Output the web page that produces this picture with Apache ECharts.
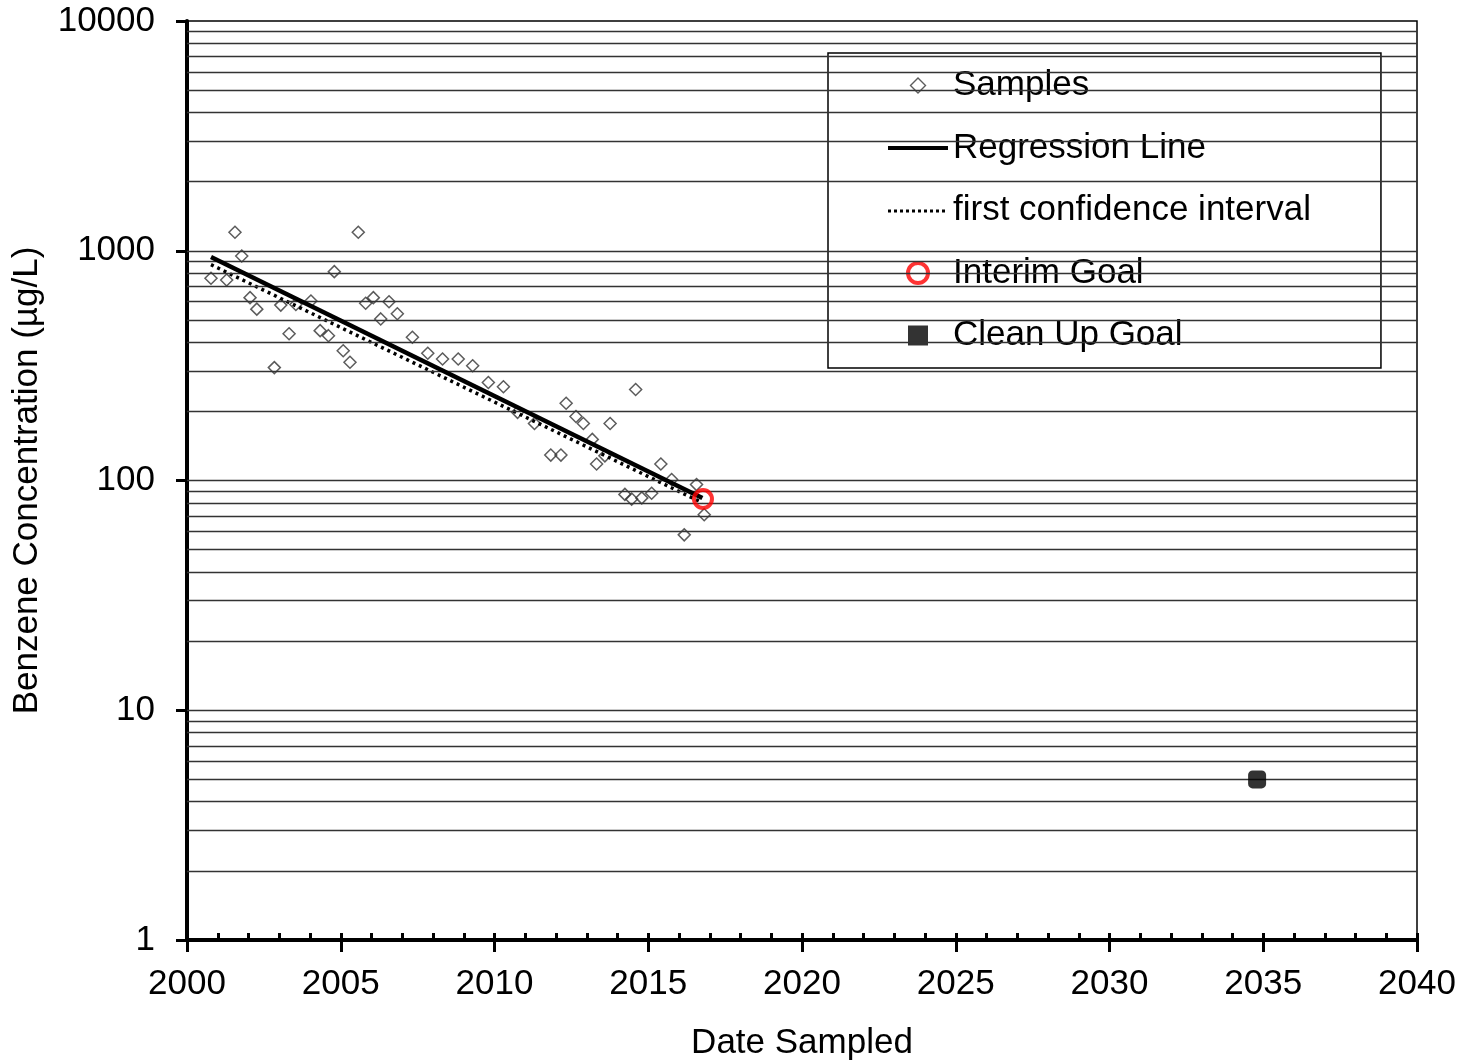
<!DOCTYPE html>
<html>
<head>
<meta charset="utf-8">
<script src="https://cdn.jsdelivr.net/npm/echarts@6/dist/echarts.min.js"></script>
<style>
  html, body { margin: 0; padding: 0; background: #fff; }
  #chart { width: 1465px; height: 1064px; }
</style>
</head>
<body>
<div id="chart"></div>
<script>
// sample dates (decimal year) and benzene concentrations (ug/L)
const sampleYears = [
    2000.78, 2001.29, 2001.56, 2001.78, 2002.05, 2002.27, 2002.84, 2003.05, 2003.32, 2003.54,
    2004.03, 2004.33, 2004.60, 2004.79, 2005.08, 2005.30, 2005.57, 2005.81, 2006.06, 2006.30,
    2006.57, 2006.84, 2007.33, 2007.83, 2008.31, 2008.82, 2009.29, 2009.80, 2010.29, 2010.75,
    2011.30, 2011.83, 2012.16, 2012.33, 2012.65, 2012.89, 2013.18, 2013.32, 2013.59, 2013.76,
    2014.24, 2014.46, 2014.59, 2014.79, 2015.11, 2015.41, 2015.76, 2016.17, 2016.57, 2016.82
];
const sampleValues = [
    759, 746, 1203, 949, 625, 557, 310, 580, 435, 584,
    604, 449, 427, 811, 367, 327, 1203, 591, 625, 505,
    600, 532, 420, 358, 338, 338, 316, 267, 256, 198,
    177, 129, 129, 217, 190, 177, 151, 118, 128, 177,
    87, 83, 249, 84, 88, 118, 101, 58, 96, 71
];

// regression line and first confidence interval (end points)
const regressionYears = [2000.78, 2016.76];
const regressionValues = [940, 84];
const confidenceYears = [2000.78, 2016.76];
const confidenceValues = [870, 80];

// goals
const interimGoal = [2016.78, 83];
const cleanUpGoal = [2034.8, 5];

const seriesNames = ['Samples', 'Regression Line', 'first confidence interval', 'Interim Goal', 'Clean Up Goal'];

const FONT = 'Liberation Sans, Arial, sans-serif';
const FS = 35;

// horizontal grid lines at 1..9 x each decade
const gridValues = [];
for (let d = 1; d <= 1000; d *= 10) {
    for (let m = 1; m <= 9; m++) {
        if (d * m > 1) gridValues.push(d * m);
    }
}

// dotted legend icon
let dotPath = 'path://M0 0M60 20';
for (let i = 0; i < 10; i++) {
    dotPath += 'M' + (i * 6) + ' 9h3v3h-3Z';
}

const chart = echarts.init(document.getElementById('chart'));

chart.setOption({
    backgroundColor: '#fff',
    animation: false,
    grid: {
        left: 187,
        right: 48,
        top: 21,
        bottom: 124,
        outerBoundsMode: 'none',
        containLabel: false,
        show: true,
        borderColor: '#000',
        borderWidth: 1.5,
        backgroundColor: 'transparent'
    },
    legend: {
        orient: 'vertical',
        left: 828,
        top: 53,
        padding: [15, 70, 15, 60],
        itemWidth: 60,
        itemHeight: 20,
        itemGap: 27.5,
        selectedMode: false,
        backgroundColor: '#fff',
        borderColor: '#000',
        borderWidth: 1.5,
        textStyle: { fontFamily: FONT, fontSize: FS, color: '#000', lineHeight: 35 },
        data: [
            {
                name: seriesNames[0],
                icon: 'path://M0 0M20 20M2.5 10L10 2.5L17.5 10L10 17.5Z',
                itemStyle: { color: 'transparent', borderColor: '#333', borderWidth: 1.4 }
            },
            {
                name: seriesNames[1],
                icon: 'path://M0 0M60 20M0 8L60 8L60 12L0 12Z',
                itemStyle: { color: '#000', borderWidth: 0 }
            },
            {
                name: seriesNames[2],
                icon: dotPath,
                itemStyle: { color: '#000', borderWidth: 0 }
            },
            {
                name: seriesNames[3],
                icon: 'path://M0 0M20 20M10 -0.5A10.5 10.5 0 1 1 9.99 -0.5Z',
                itemStyle: { color: 'transparent', borderColor: '#f00', borderWidth: 4 }
            },
            {
                name: seriesNames[4],
                icon: 'path://M0 0M20 20M0 0h20v20h-20Z',
                itemStyle: { color: '#000', borderWidth: 0 }
            }
        ]
    },
    xAxis: [{
        type: 'value',
        min: 2000,
        max: 2040,
        interval: 5,
        name: 'Date Sampled',
        nameLocation: 'middle',
        nameGap: 86,
        nameTextStyle: { fontFamily: FONT, fontSize: FS, color: '#000' },
        axisLine: { show: true, onZero: false, lineStyle: { color: '#000', width: 4 } },
        axisTick: { show: true, inside: false, length: 12, lineStyle: { color: '#000', width: 3 } },
        axisLabel: {
            margin: 27,
            fontFamily: FONT,
            fontSize: FS,
            color: '#000',
            formatter: v => String(v)
        },
        splitLine: { show: false }
    }, {
        // yearly minor ticks pointing into the plot
        type: 'value',
        position: 'bottom',
        min: 2000,
        max: 2040,
        interval: 1,
        axisLine: { show: false },
        axisTick: { show: true, inside: true, length: 7, lineStyle: { color: '#000', width: 3 } },
        axisLabel: { show: false },
        splitLine: { show: false }
    }],
    yAxis: {
        type: 'log',
        logBase: 10,
        min: 1,
        max: 10000,
        name: 'Benzene Concentration (\u00b5g/L)',
        nameLocation: 'middle',
        nameGap: 142,
        nameTextStyle: { fontFamily: FONT, fontSize: FS, color: '#000' },
        axisLine: { show: true, onZero: false, lineStyle: { color: '#000', width: 4 } },
        axisTick: { show: true, inside: false, length: 11, lineStyle: { color: '#000', width: 3 } },
        axisLabel: {
            margin: 32,
            fontFamily: FONT,
            fontSize: FS,
            color: '#000',
            formatter: v => String(Math.round(v))
        },
        splitLine: { show: false }
    },
    series: [
        {
            name: 'grid',
            type: 'line',
            data: [],
            silent: true,
            z: 1,
            markLine: {
                silent: true,
                symbol: 'none',
                label: { show: false },
                lineStyle: { color: '#333', width: 1.3, type: 'solid' },
                data: gridValues.map(v => ({ yAxis: v }))
            }
        },
        {
            name: seriesNames[0],
            type: 'scatter',
            symbol: 'diamond',
            symbolSize: 12,
            z: 3,
            itemStyle: { color: 'transparent', borderColor: '#333', borderWidth: 1.5 },
            data: sampleYears.map((x, i) => [x, sampleValues[i]])
        },
        {
            name: seriesNames[2],
            type: 'line',
            symbol: 'none',
            z: 4,
            lineStyle: { color: '#000', width: 3.5, type: [3, 4] },
            data: confidenceYears.map((x, i) => [x, confidenceValues[i]])
        },
        {
            name: seriesNames[1],
            type: 'line',
            symbol: 'none',
            z: 5,
            lineStyle: { color: '#000', width: 4.5 },
            data: regressionYears.map((x, i) => [x, regressionValues[i]])
        },
        {
            name: seriesNames[3],
            type: 'scatter',
            symbol: 'circle',
            symbolSize: 18,
            z: 6,
            itemStyle: { color: 'transparent', borderColor: '#f00', borderWidth: 4 },
            data: [interimGoal]
        },
        {
            name: seriesNames[4],
            type: 'scatter',
            symbol: 'roundRect',
            symbolSize: 18,
            z: 6,
            itemStyle: { color: '#000' },
            data: [cleanUpGoal]
        }
    ]
});
</script>
</body>
</html>
